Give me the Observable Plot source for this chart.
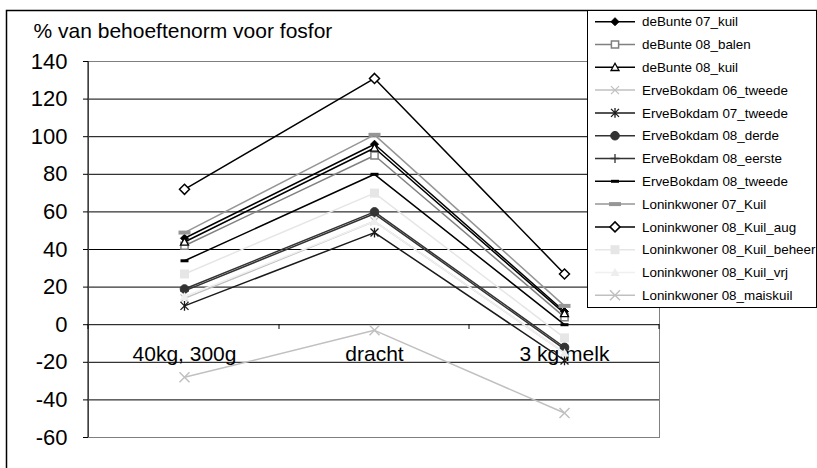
<!DOCTYPE html>
<html>
<head>
<meta charset="utf-8">
<script src="https://cdn.jsdelivr.net/npm/d3@7"></script>
<script src="https://cdn.jsdelivr.net/npm/@observablehq/plot@0.6"></script>
<style>
  body { margin: 0; background: #fff; }
  #chart svg { display: block; }
</style>
</head>
<body>
<div id="chart"></div>
<script>
// Fosforvoorziening per bedrijf/kuil, als % van de behoeftenorm
const categories = ["40kg, 300g", "dracht", "3 kg melk"];
const yTicks = [-60, -40, -20, 0, 20, 40, 60, 80, 100, 120, 140];
const title = "% van behoeftenorm voor fosfor";

const seriesNames = [
  "deBunte 07_kuil", "deBunte 08_balen", "deBunte 08_kuil",
  "ErveBokdam 06_tweede", "ErveBokdam 07_tweede", "ErveBokdam 08_derde",
  "ErveBokdam 08_eerste", "ErveBokdam 08_tweede", "Loninkwoner 07_Kuil",
  "Loninkwoner 08_Kuil_aug", "Loninkwoner 08_Kuil_beheer",
  "Loninkwoner 08_Kuil_vrj", "Loninkwoner 08_maiskuil"
];

const deBunte07Kuil        = [46, 96, 7];
const deBunte08Balen       = [42, 90, 4];
const deBunte08Kuil        = [44, 94, 6];
const erveBokdam06Tweede   = [14, 55, -15];
const erveBokdam07Tweede   = [10, 49, -19];
const erveBokdam08Derde    = [19, 60, -12];
const erveBokdam08Eerste   = [18, 59, -13];
const erveBokdam08Tweede   = [34, 80, 0];
const loninkwoner07Kuil    = [49, 101, 10];
const loninkwoner08KuilAug = [72, 131, 27];
const loninkwoner08Beheer  = [27, 70, -7];
const loninkwoner08Vrj     = [15, 55, -15];
const loninkwoner08Mais    = [-28, -3, -47];

const seriesValues = [
  deBunte07Kuil, deBunte08Balen, deBunte08Kuil,
  erveBokdam06Tweede, erveBokdam07Tweede, erveBokdam08Derde,
  erveBokdam08Eerste, erveBokdam08Tweede, loninkwoner07Kuil,
  loninkwoner08KuilAug, loninkwoner08Beheer, loninkwoner08Vrj, loninkwoner08Mais
];

// marker shapes (fixed pixel sizes, independent of Plot's r)
const shape = {
  diamond: s => ({draw(c) { c.moveTo(0, -s); c.lineTo(s, 0); c.lineTo(0, s); c.lineTo(-s, 0); c.closePath(); }}),
  square: s => ({draw(c) { c.rect(-s, -s, 2 * s, 2 * s); }}),
  triangle: s => ({draw(c) { c.moveTo(0, -s); c.lineTo(s, s * 0.8); c.lineTo(-s, s * 0.8); c.closePath(); }}),
  cross: s => ({draw(c) { c.moveTo(-s, -s); c.lineTo(s, s); c.moveTo(s, -s); c.lineTo(-s, s); }}),
  star: s => ({draw(c) { c.moveTo(-s, -s); c.lineTo(s, s); c.moveTo(s, -s); c.lineTo(-s, s); c.moveTo(0, -s * 1.2); c.lineTo(0, s * 1.2); }}),
  plus: s => ({draw(c) { c.moveTo(-s, 0); c.lineTo(s, 0); c.moveTo(0, -s); c.lineTo(0, s); }}),
  circle: s => ({draw(c) { c.moveTo(s, 0); c.arc(0, 0, s, 0, 2 * Math.PI); }}),
  dash: (w, h) => ({draw(c) { c.rect(-w, -h, 2 * w, 2 * h); }})
};

const styles = [
  {line: "#000000", symbol: shape.diamond(4),   fill: "#000000", stroke: "#000000", sw: 1},
  {line: "#808080", symbol: shape.square(3.6),  fill: "#ffffff", stroke: "#808080", sw: 1.5},
  {line: "#000000", symbol: shape.triangle(4),  fill: "#ffffff", stroke: "#000000", sw: 1.3},
  {line: "#c0c0c0", symbol: shape.cross(4),     fill: "none",    stroke: "#c0c0c0", sw: 1.3},
  {line: "#1a1a1a", symbol: shape.star(4),      fill: "none",    stroke: "#1a1a1a", sw: 1.3},
  {line: "#333333", symbol: shape.circle(4.3),  fill: "#333333", stroke: "#333333", sw: 1},
  {line: "#333333", symbol: shape.plus(4.5),    fill: "none",    stroke: "#333333", sw: 1.3},
  {line: "#000000", symbol: shape.dash(4, 1.5), fill: "#000000", stroke: "none",    sw: 0},
  {line: "#969696", symbol: shape.dash(6, 2),   fill: "#969696", stroke: "none",    sw: 0},
  {line: "#000000", symbol: shape.diamond(5),   fill: "#ffffff", stroke: "#000000", sw: 1.5},
  {line: "#e6e6e6", symbol: shape.square(4.5),  fill: "#e6e6e6", stroke: "none",    sw: 0},
  {line: "#f0f0f0", symbol: shape.triangle(4.5),fill: "#eeeeee", stroke: "none",    sw: 0},
  {line: "#c0c0c0", symbol: shape.cross(5),     fill: "none",    stroke: "#c0c0c0", sw: 1.5}
];

const rows = seriesValues.flatMap((vals, k) =>
  vals.map((v, j) => ({name: seriesNames[k], cat: categories[j], value: v, k}))
);

const FONT = "'Liberation Sans', Arial, sans-serif";

// outer chart frame
function chartFrame() {
  const g = d3.create("svg:g");
  g.append("rect").attr("x", 6.5).attr("y", 10.5).attr("width", 900).attr("height", 500)
    .attr("fill", "none").attr("stroke", "#000").attr("stroke-width", 1.5);
  return g.node();
}

// y axis line and category boundary ticks on the zero line
function axes(index, scales, values, dims) {
  const {x, y} = scales;
  const g = d3.create("svg:g").attr("stroke", "#000").attr("fill", "none");
  const left = dims.marginLeft, right = dims.width - dims.marginRight;
  const top = dims.marginTop, bottom = dims.height - dims.marginBottom;
  g.append("line").attr("x1", left).attr("x2", left).attr("y1", top).attr("y2", bottom);
  const px = categories.map(c => x(c));
  const bounds = [left];
  for (let i = 0; i < px.length - 1; ++i) bounds.push((px[i] + px[i + 1]) / 2);
  bounds.push(right);
  const y0 = Math.round(y(0));
  bounds.forEach(b => g.append("line")
    .attr("x1", Math.round(b)).attr("x2", Math.round(b)).attr("y1", y0).attr("y2", y0 + 5));
  return g.node();
}

// legend box at the top right
function legend() {
  const g = d3.create("svg:g").attr("font-family", FONT).attr("font-size", 13.4)
    .attr("text-anchor", "start");
  g.append("rect").attr("x", 587.5).attr("y", 10.5).attr("width", 229).attr("height", 297)
    .attr("fill", "#fff").attr("stroke", "#000");
  seriesNames.forEach((name, k) => {
    const st = styles[k];
    const cy = 21.7 + 22.8 * k;
    g.append("line").attr("x1", 595).attr("x2", 635).attr("y1", cy).attr("y2", cy)
      .attr("stroke", st.line).attr("stroke-width", 1.5);
    const p = d3.path();
    st.symbol.draw(p);
    g.append("path").attr("d", p.toString()).attr("transform", `translate(615,${cy})`)
      .attr("fill", st.fill).attr("stroke", st.stroke).attr("stroke-width", st.sw);
    g.append("text").attr("x", 642).attr("y", cy).attr("dy", "0.35em")
      .attr("text-anchor", "start").attr("fill", "#000").text(name);
  });
  return g.node();
}

const chart = Plot.plot({
  width: 817,
  height: 468,
  marginLeft: 88,
  marginRight: 158,
  marginTop: 61,
  marginBottom: 31,
  style: {fontFamily: FONT, background: "#fff", color: "#000"},
  x: {type: "point", domain: categories, padding: 0.5, axis: null},
  y: {domain: [-60, 140], label: null, axis: null},
  marks: [
    chartFrame,
    Plot.ruleY(yTicks.filter(t => t !== 140), {stroke: "#000", strokeWidth: 1}),
    Plot.frame({stroke: "#808080"}),
    axes,
    Plot.axisY({ticks: yTicks, tickSize: 5, tickPadding: 16, fontSize: 22,
                tickFormat: d => String(d), label: null, stroke: "#000"}),
    Plot.text([title], {frameAnchor: "top-left", dx: -55, dy: -24, textAnchor: "start",
                        lineAnchor: "bottom", fontSize: 21, fill: "#000"}),
    Plot.text(categories, {x: d => d, y: () => 0, dy: 30, fontSize: 21, fill: "#000",
                           textAnchor: "middle"}),
    ...seriesValues.flatMap((vals, k) => {
      const st = styles[k];
      const data = rows.filter(r => r.k === k);
      return [
        Plot.line(data, {x: "cat", y: "value", stroke: st.line, strokeWidth: 1.5}),
        Plot.dot(data, {x: "cat", y: "value", symbol: st.symbol, r: 4,
                        fill: st.fill, stroke: st.stroke, strokeWidth: st.sw})
      ];
    }),
    legend
  ]
});

document.getElementById("chart").append(chart);
</script>
</body>
</html>
